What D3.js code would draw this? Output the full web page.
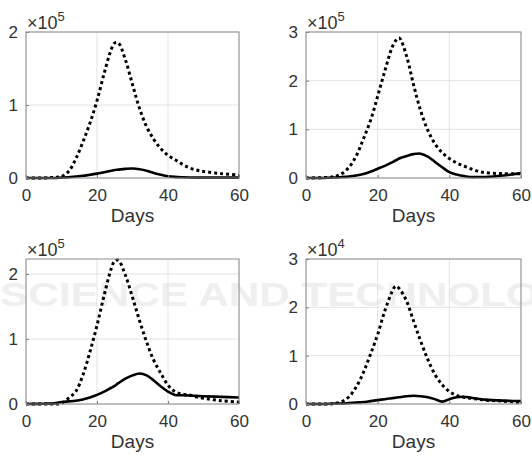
<!DOCTYPE html>
<html>
<head>
<meta charset="utf-8">
<script src="https://cdn.jsdelivr.net/npm/d3@7"></script>
<style>
  body { margin: 0; background: #fff; }
  svg { display: block; font-family: "Liberation Sans", Arial, sans-serif; }
</style>
</head>
<body>
<svg id="chart" width="532" height="457"></svg>
<script>
// sample days shared by every curve
const days = [0, 5, 8, 10, 12, 14, 16, 18, 20, 22, 24, 25, 26, 28, 30, 32, 34, 36, 38, 40, 42, 44, 46, 48, 50, 55, 60];

// values are in units of the axis multiplier (x10^5 or x10^4)
const dotted1 = [0, 0, 0.01, 0.02, 0.09, 0.26, 0.49, 0.75, 1.06, 1.43, 1.76, 1.85, 1.85, 1.62, 1.28, 0.95, 0.70, 0.53, 0.40, 0.31, 0.25, 0.19, 0.14, 0.11, 0.09, 0.06, 0.04];
const solid1 = [0, 0, 0, 0.005, 0.01, 0.02, 0.03, 0.045, 0.06, 0.08, 0.10, 0.11, 0.115, 0.125, 0.13, 0.12, 0.10, 0.07, 0.045, 0.025, 0.015, 0.01, 0.007, 0.005, 0.005, 0.005, 0.005];

const dotted2 = [0, 0.01, 0.03, 0.09, 0.22, 0.45, 0.80, 1.18, 1.68, 2.20, 2.68, 2.82, 2.88, 2.52, 1.92, 1.38, 0.98, 0.70, 0.52, 0.40, 0.31, 0.25, 0.19, 0.14, 0.11, 0.09, 0.09];
const solid2 = [0, 0, 0.01, 0.02, 0.03, 0.05, 0.08, 0.13, 0.19, 0.25, 0.32, 0.36, 0.40, 0.45, 0.49, 0.50, 0.44, 0.33, 0.22, 0.12, 0.07, 0.04, 0.02, 0.02, 0.02, 0.05, 0.10];

const dotted3 = [0, 0, 0, 0.01, 0.09, 0.19, 0.44, 0.80, 1.21, 1.67, 2.08, 2.20, 2.21, 1.98, 1.64, 1.28, 0.95, 0.67, 0.47, 0.29, 0.19, 0.15, 0.14, 0.11, 0.09, 0.05, 0.03];
const solid3 = [0, 0.005, 0.01, 0.03, 0.04, 0.05, 0.07, 0.10, 0.14, 0.19, 0.25, 0.28, 0.32, 0.39, 0.44, 0.47, 0.44, 0.36, 0.27, 0.19, 0.14, 0.135, 0.13, 0.125, 0.12, 0.11, 0.10];

const dotted4 = [0, 0, 0.01, 0.05, 0.15, 0.35, 0.65, 1.03, 1.44, 1.93, 2.32, 2.44, 2.39, 2.14, 1.72, 1.30, 0.92, 0.61, 0.40, 0.26, 0.18, 0.14, 0.12, 0.10, 0.08, 0.06, 0.03];
const solid4 = [0, 0, 0.01, 0.01, 0.02, 0.03, 0.04, 0.06, 0.08, 0.10, 0.12, 0.13, 0.14, 0.16, 0.17, 0.16, 0.14, 0.10, 0.05, 0.10, 0.14, 0.15, 0.13, 0.11, 0.09, 0.07, 0.06];

const xTicks = [0, 20, 40, 60];
const yMax = [2, 3, 2.23, 3];
const yTicks = [[0, 1, 2], [0, 1, 2, 3], [0, 1, 2], [0, 1, 2, 3]];
const exponents = ["5", "5", "5", "4"];

const panels = [
  { x: 26, y: 32, w: 213, h: 146, dotted: dotted1, solid: solid1 },
  { x: 306, y: 32, w: 215, h: 146, dotted: dotted2, solid: solid2 },
  { x: 26, y: 259, w: 213, h: 145, dotted: dotted3, solid: solid3 },
  { x: 306, y: 259, w: 215, h: 145, dotted: dotted4, solid: solid4 },
];

const svg = d3.select("#chart");

// faint publisher watermark behind the plots
svg.append("text")
  .attr("x", 0).attr("y", 306)
  .attr("textLength", 600).attr("lengthAdjust", "spacingAndGlyphs")
  .attr("fill", "#efefef")
  .style("font-size", "34px").style("font-weight", "bold")
  .text("SCIENCE AND TECHNOLOGY");

panels.forEach((p, i) => {
  const g = svg.append("g").attr("transform", `translate(${p.x},${p.y})`);

  const xScale = d3.scaleLinear().domain([0, 60]).range([0, p.w]);
  const yScale = d3.scaleLinear().domain([0, yMax[i]]).range([p.h, 0]);

  // grid
  g.append("g")
    .selectAll("line")
    .data(xTicks)
    .enter()
    .append("line")
    .attr("x1", (d) => xScale(d)).attr("x2", (d) => xScale(d))
    .attr("y1", 0).attr("y2", p.h)
    .attr("stroke", "#dcdcdc").attr("stroke-width", 0.8);
  g.append("g")
    .selectAll("line")
    .data(yTicks[i])
    .enter()
    .append("line")
    .attr("x1", 0).attr("x2", p.w)
    .attr("y1", (d) => yScale(d)).attr("y2", (d) => yScale(d))
    .attr("stroke", "#dcdcdc").attr("stroke-width", 0.8);

  // curves
  const line = d3
    .line()
    .x((d, j) => xScale(days[j]))
    .y((d) => Math.min(p.h, yScale(d)))
    .curve(d3.curveCatmullRom.alpha(0.5));

  g.append("path")
    .datum(p.dotted)
    .attr("d", line)
    .attr("fill", "none")
    .attr("stroke", "#000")
    .attr("stroke-width", 3)
    .attr("stroke-dasharray", "3 3");

  g.append("path")
    .datum(p.solid)
    .attr("d", line)
    .attr("fill", "none")
    .attr("stroke", "#000")
    .attr("stroke-width", 2.6);

  // axes
  const xAxis = g
    .append("g")
    .attr("transform", "translate(0," + p.h + ")")
    .call(d3.axisBottom(xScale).tickValues(xTicks).tickSize(-3).tickPadding(11).tickFormat((d) => d));
  const yAxis = g
    .append("g")
    .call(d3.axisLeft(yScale).tickValues(yTicks[i]).tickSize(-3).tickPadding(8).tickFormat((d) => d));

  [xAxis, yAxis].forEach((a) => {
    a.attr("font-family", null).attr("font-size", null);
    a.select(".domain").remove();
    a.selectAll("line").attr("stroke", "#808080");
    a.selectAll("text").attr("fill", "#333").style("font-size", "17px");
  });

  // box
  g.append("rect")
    .attr("width", p.w).attr("height", p.h)
    .attr("fill", "none").attr("stroke", "#8c8c8c").attr("stroke-width", 1);

  // exponent label
  const ex = g.append("text")
    .attr("x", 1).attr("y", -3)
    .attr("fill", "#333")
    .style("font-size", "18px");
  ex.append("tspan").text("\u00d710");
  ex.append("tspan").attr("dy", -8).style("font-size", "13px").text(exponents[i]);

  // x label
  g.append("text")
    .attr("x", p.w / 2)
    .attr("y", p.h + 44)
    .attr("text-anchor", "middle")
    .attr("fill", "#333")
    .style("font-size", "19px")
    .text("Days");
});
</script>
</body>
</html>
